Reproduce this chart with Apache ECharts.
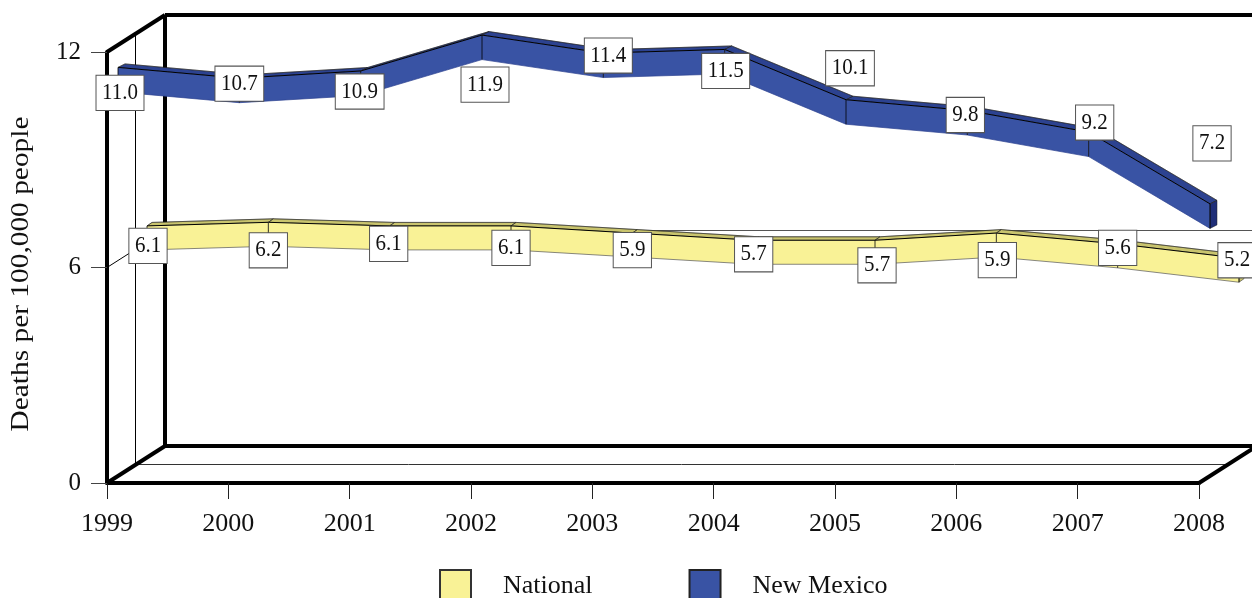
<!DOCTYPE html>
<html>
<head>
<meta charset="utf-8">
<style>html,body{margin:0;padding:0;background:#fff}#c{width:1252px;height:598px}</style>
<script src="https://cdn.jsdelivr.net/npm/echarts@6/dist/echarts.min.js"></script>
</head>
<body>
<div id="c"></div>
<script>
var years = ['1999','2000','2001','2002','2003','2004','2005','2006','2007','2008'];
var nationalValues = [6.1,6.2,6.1,6.1,5.9,5.7,5.7,5.9,5.6,5.2];
var newMexicoValues = [11.0,10.7,10.9,11.9,11.4,11.5,10.1,9.8,9.2,7.2];
var yTitle = 'Deaths per 100,000 people';

// label placement relative to each value's axis position, in pixels
var nationalLabelOffsets = [[41,-18],[40,-10],[39,-20],[40,-16],[40,-21],[40,-24],[42,-13],[41,-11],[40,-34],[38,-36]];
var newMexicoLabelOffsets = [[13,5],[11,-15],[10,0],[14,29],[16,-18],[12,1],[15,-52],[9,-16],[17,-30],[13,-81]];

var FONT = '"Liberation Serif","Times New Roman",serif';
var DEPTH = [58,-37];
var MID_DEPTH = [28.5,-18.5];

function line(a,b,w,color){
  return {type:'line',shape:{x1:a[0],y1:a[1],x2:b[0],y2:b[1]},style:{stroke:color||'#000',lineWidth:w,fill:null},silent:true};
}
function add(p,d){ return [p[0]+d[0],p[1]+d[1]]; }

function renderFrame(params,api){
  var o = api.coord([0,0]), xEnd = api.coord([9,0]), top = api.coord([0,12]), mid = api.coord([0,6]);
  var ob = add(o,DEPTH), tb = add(top,DEPTH), mb = add(mid,DEPTH), xb = add(xEnd,DEPTH);
  return {type:'group',children:[
    line(add(top,MID_DEPTH),add(o,MID_DEPTH),1),
    line(add(o,MID_DEPTH),add(xEnd,MID_DEPTH),1,'#333'),
    line(mid,mb,1),
    line(mb,[xb[0],mb[1]],1,'#555'),
    line(tb,[xb[0]+10,tb[1]],4),
    line(ob,[xb[0]+10,ob[1]],4),
    line(tb,ob,4),
    line(top,tb,4),
    line(o,ob,4),
    line(xEnd,xb,4)
  ]};
}

function ribbon(values,opt){
  return function(params,api){
    var i = api.value(0), kids = [];
    var p = api.coord([i,values[i]]);
    var tl = [p[0]+opt.dx,p[1]+opt.top], bl = [p[0]+opt.dx,p[1]+opt.bottom];
    if(i < values.length-1){
      var q = api.coord([i+1,values[i+1]]);
      var tr = [q[0]+opt.dx,q[1]+opt.top], br = [q[0]+opt.dx,q[1]+opt.bottom];
      kids.push({type:'polygon',shape:{points:[tl,tr,add(tr,opt.back),add(tl,opt.back)]},style:{fill:opt.topColor,stroke:'#222',lineWidth:.5}});
      kids.push({type:'polygon',shape:{points:[tl,tr,br,bl]},style:{fill:opt.color,stroke:null}});
      kids.push(line(tl,tr,1));
      kids.push(line(bl,br,.7,opt.lower));
      kids.push(line(add(tl,opt.back),add(tr,opt.back),.5,'#222'));
    } else {
      kids.push({type:'polygon',shape:{points:[tl,add(tl,opt.back),add(bl,opt.back),bl]},style:{fill:opt.capColor,stroke:'#222',lineWidth:.5}});
    }
    kids.push(line(tl,bl,.8));
    kids.push(line(tl,add(tl,opt.back),.5,'#222'));
    return {type:'group',children:kids};
  };
}

function labels(values,offsets){
  return function(params,api){
    var i = api.value(0), p = api.coord([i,values[i]]), off = offsets[i];
    return {type:'text',x:p[0]+off[0],y:p[1]+off[1],scaleY:1.1,style:{
      text:values[i].toFixed(1),fontFamily:FONT,fontSize:21,fill:'#111',
      align:'center',verticalAlign:'middle',lineHeight:21,
      backgroundColor:'#fff',borderColor:'#555',borderWidth:1,padding:[5,5.5,5,5.5]
    }};
  };
}

function indexed(values){ return values.map(function(v,i){return [i,v];}); }

var common = {type:'custom',clip:false,silent:true,coordinateSystem:'cartesian2d',encode:{x:0,y:1}};
function series(o){ return Object.assign({},common,o); }

var chart = echarts.init(document.getElementById('c'),null,{renderer:'canvas'});
chart.setOption({
  animation:false,
  backgroundColor:'#fff',
  textStyle:{fontFamily:FONT},
  tooltip:{show:false},
  grid:{left:107,right:53,top:52,bottom:115,containLabel:false},
  xAxis:{type:'category',data:years,boundaryGap:false,
    axisLine:{show:true,onZero:false,lineStyle:{color:'#000',width:4}},
    axisTick:{show:true,alignWithLabel:true,length:16,lineStyle:{color:'#222',width:1}},
    axisLabel:{color:'#111',fontFamily:FONT,fontSize:26,margin:28,interval:0,hideOverlap:false,showMinLabel:true,showMaxLabel:true},
    splitLine:{show:false}},
  yAxis:{type:'value',min:0,max:12,interval:6,
    axisLine:{show:true,onZero:false,lineStyle:{color:'#000',width:4}},
    axisTick:{show:true,length:16,lineStyle:{color:'#444',width:1}},
    axisLabel:{color:'#111',fontFamily:FONT,fontSize:25,margin:26,padding:[3,0,0,0]},
    splitLine:{show:false}},
  legend:{show:true,left:439,top:569,padding:0,itemWidth:31,itemHeight:32,itemGap:96,icon:'rect',selectedMode:false,
    data:['National','New Mexico'],
    textStyle:{fontFamily:FONT,fontSize:26,color:'#111',padding:[4,0,0,27]}},
  graphic:[{type:'text',x:21,y:274,rotation:Math.PI/2,scaleX:1.13,silent:true,
    style:{text:yTitle,fontFamily:FONT,fontSize:26,fill:'#111',align:'center',verticalAlign:'middle'}}],
  series:[
    series({name:'frame',z:1,data:[[0,0]],renderItem:renderFrame}),
    series({name:'National',z:3,data:indexed(nationalValues),itemStyle:{color:'#F9F296',borderColor:'#333',borderWidth:1},
      renderItem:ribbon(nationalValues,{dx:40,top:-38,bottom:-14,back:[5,-3.5],color:'#F9F296',topColor:'#C9C46E',capColor:'#C9C46E',lower:'#555'})}),
    series({name:'New Mexico',z:3,data:indexed(newMexicoValues),itemStyle:{color:'#3953A4',borderColor:'#222',borderWidth:1},
      renderItem:ribbon(newMexicoValues,{dx:11,top:-20.5,bottom:4,back:[7,-3.5],color:'#3953A4',topColor:'#2C4290',capColor:'#1F2E78',lower:'#2C4290'})}),
    series({name:'nationalLabels',z:5,data:indexed(nationalValues),renderItem:labels(nationalValues,nationalLabelOffsets)}),
    series({name:'newMexicoLabels',z:5,data:indexed(newMexicoValues),renderItem:labels(newMexicoValues,newMexicoLabelOffsets)})
  ]
});
</script>
</body>
</html>
